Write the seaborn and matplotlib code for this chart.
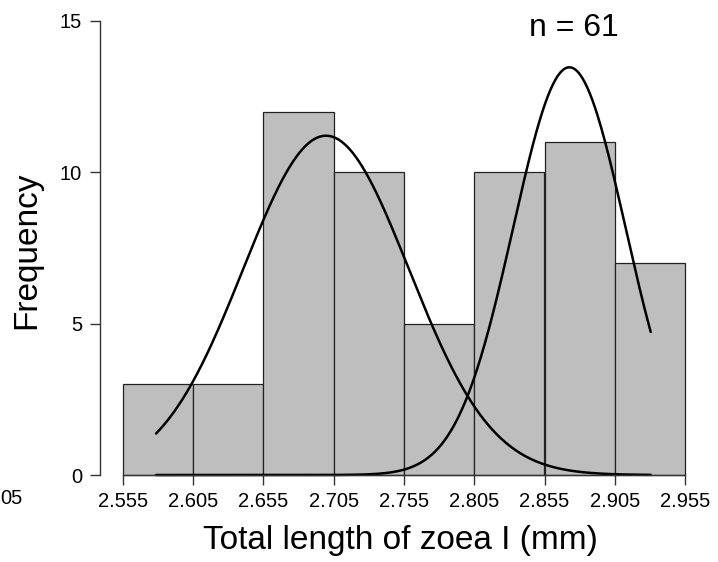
import numpy as np
import pandas as pd
import matplotlib
matplotlib.use("Agg")
import matplotlib.pyplot as plt
import seaborn as sns

# ---- data ----
bin_edges = [2.555, 2.605, 2.655, 2.705, 2.755, 2.805, 2.855, 2.905, 2.955]
counts = [3, 3, 12, 10, 5, 10, 11, 7]
x_ticks = [2.555, 2.605, 2.655, 2.705, 2.755, 2.805, 2.855, 2.905, 2.955]
y_ticks = [0, 5, 10, 15]

# two fitted normal components (mean, sd, peak height in counts)
comp_means = [2.6995, 2.8727]
comp_sds = [0.059, 0.040]
comp_peaks = [11.21, 13.47]
curve_range = [2.5785, 2.9306]
n_total = 61

sns.set_theme(style="white")
plt.rcParams['font.family'] = ['Liberation Sans', 'DejaVu Sans']

W, H = 718, 562
fig = plt.figure(figsize=(W / 100, H / 100), dpi=100)
# axes placed in pixel coordinates
left_px, right_px, top_px, bottom_px = 100, 700, 15, 480
ax = fig.add_axes([left_px / W, 1 - bottom_px / H,
                   (right_px - left_px) / W, (bottom_px - top_px) / H])

centers = [(a + b) / 2 for a, b in zip(bin_edges[:-1], bin_edges[1:])]
df = pd.DataFrame({"length": centers, "count": counts})
sns.histplot(data=df, x="length", weights="count", bins=bin_edges, ax=ax,
             color="#BEBEBE", edgecolor="#222222", linewidth=0.9, alpha=1.0)

xs = np.linspace(curve_range[0], curve_range[1], 400)
for m, s, p in zip(comp_means, comp_sds, comp_peaks):
    ys = p * np.exp(-(xs - m) ** 2 / (2 * s ** 2))
    sns.lineplot(x=xs, y=ys, ax=ax, color="black", linewidth=1.8)

# scales: 2.555 -> px 123, 0.05 -> 70.25 px ; y 0 -> px 475, 1 unit -> 30.27 px
px_per_x = 70.25 / 0.05
ax.set_xlim(2.555 - (123 - left_px) / px_per_x, 2.555 + (right_px - 123) / px_per_x)
px_per_y = 30.27
ax.set_ylim(-(bottom_px - 475) / px_per_y, 15 + (21 - top_px) / px_per_y)

for sp in ["top", "right"]:
    ax.spines[sp].set_visible(False)
ax.spines["left"].set_bounds(0, 15)
ax.spines["bottom"].set_bounds(2.555, 2.955)
ax.spines["bottom"].set_position(("data", 0))
for sp in ["left", "bottom"]:
    ax.spines[sp].set_color("#333333")
    ax.spines[sp].set_linewidth(1.0)

ax.set_xticks(x_ticks)
ax.set_xticklabels([f"{t:.3f}" for t in x_ticks])
ax.set_yticks(y_ticks)
ax.set_yticklabels([str(t) for t in y_ticks])
ax.tick_params(axis="both", which="both", direction="out", length=7, width=1.0,
               color="#333333", labelsize=14.5, labelcolor="black", bottom=True, left=True)
ax.tick_params(axis="x", pad=5)
ax.tick_params(axis="y", pad=6)
ax.grid(False)

ax.set_xlabel("")
ax.set_ylabel("")
fig.text(400 / W, 1 - 540 / H, "Total length of zoea I (mm)", ha="center", va="center",
         fontsize=24, color="black")
fig.text(27 / W, 1 - 250 / H, "Frequency", ha="center", va="center", rotation=90,
         fontsize=24, color="black")
fig.text(574 / W, 1 - 28 / H, f"n = {n_total}", ha="center", va="center",
         fontsize=23, color="black")
fig.text(0, 1 - 499 / H, "05", ha="left", va="center", fontsize=14.5, color="black")

fig.savefig("out.png", dpi=100)
